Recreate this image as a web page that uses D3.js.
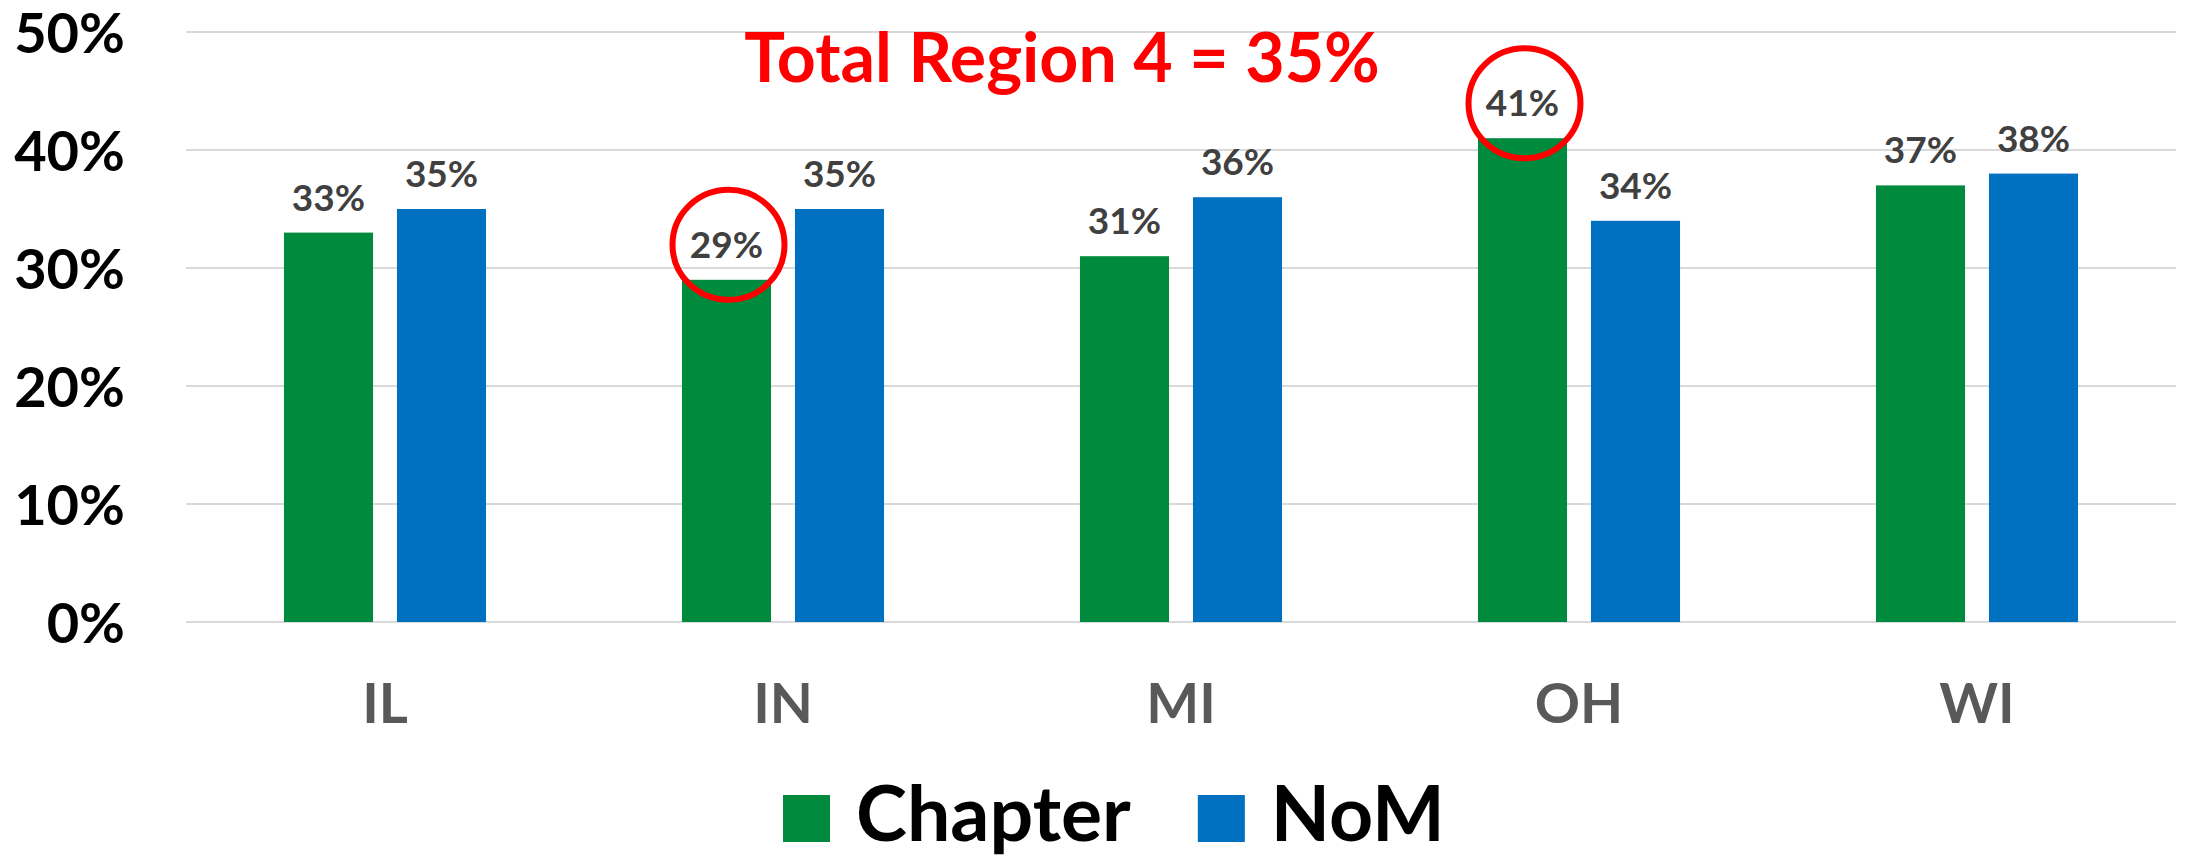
<!DOCTYPE html>
<html>
<head>
<meta charset="utf-8">
<script src="https://cdn.jsdelivr.net/npm/d3@7"></script>
<style>
  body { margin: 0; background: #fff; }
  svg { display: block; font-family: Lato, "Open Sans", sans-serif; font-weight: bold; }
</style>
</head>
<body>
<div id="viz"></div>
<script>
const states = ['IL', 'IN', 'MI', 'OH', 'WI'];
const seriesNames = ['Chapter', 'NoM'];
const chapter = [33, 29, 31, 41, 37];
const nom = [35, 35, 36, 34, 38];
const yTickValues = [0, 10, 20, 30, 40, 50];
const circled = ['IN', 'OH'];   // chapter labels ringed in red
const titleText = 'Total Region 4 = 35%';

const width = 2190;
const height = 859;
const margin = { top: 32, right: 14, bottom: 237, left: 186 };
const plotWidth = width - margin.left - margin.right;
const plotHeight = height - margin.top - margin.bottom;
const colors = { Chapter: '#008A3E', NoM: '#0070C0' };

const rows = states.map((s, i) => ({ state: s, Chapter: chapter[i], NoM: nom[i] }));

const x = d3.scaleBand().domain(states).range([0, plotWidth]);
const xInner = d3.scaleBand()
                 .domain(seriesNames)
                 .range([0, x.bandwidth()])
                 .paddingInner(0.212)
                 .paddingOuter(0.867);
const y = d3.scaleLinear().domain([0, 50]).range([plotHeight, 0]);

const svg = d3.select('#viz')
              .append('svg')
              .attr('width', width)
              .attr('height', height);

svg.append('rect').attr('width', width).attr('height', height).attr('fill', '#fff');

const plot = svg.append('g')
                .attr('transform', `translate(${margin.left}, ${margin.top})`);

// gridlines
plot.append('g')
    .selectAll('line')
    .data(yTickValues)
    .enter().append('line')
      .attr('x1', 0)
      .attr('x2', plotWidth)
      .attr('y1', (d) => y(d))
      .attr('y2', (d) => y(d))
      .attr('stroke', '#d9d9d9')
      .attr('stroke-width', 2);

// y axis labels
const yAxis = svg.append('g')
                 .attr('transform', `translate(${margin.left - 61}, ${margin.top})`)
                 .call(d3.axisLeft(y).tickValues(yTickValues).tickSize(0).tickFormat((d) => d + '%'));
yAxis.select('.domain').remove();
yAxis.selectAll('text')
     .attr('x', 0)
     .attr('dy', '0.36em')
     .attr('fill', '#000')
     .style('font-size', '56px')
     .style('font-family', 'Lato, sans-serif')
     .style('font-weight', 'bold');

// x axis labels
const xAxis = svg.append('g')
                 .attr('transform', `translate(${margin.left}, ${margin.top + plotHeight})`)
                 .call(d3.axisBottom(x).tickSize(0));
xAxis.select('.domain').remove();
xAxis.selectAll('text')
     .attr('y', 101)
     .attr('dy', 0)
     .attr('fill', '#595959')
     .style('font-size', '56px')
     .style('font-family', 'Lato, sans-serif')
     .style('font-weight', 'bold');

// bars
const groups = plot.selectAll('.group')
                   .data(rows)
                   .enter().append('g')
                     .attr('class', 'group')
                     .attr('transform', (d) => `translate(${x(d.state)}, 0)`);

groups.selectAll('rect')
      .data((d) => seriesNames.map((k) => ({ state: d.state, key: k, value: d[k] })))
      .enter().append('rect')
        .attr('x', (d) => xInner(d.key))
        .attr('width', xInner.bandwidth())
        .attr('y', (d) => y(d.value))
        .attr('height', (d) => plotHeight - y(d.value))
        .attr('fill', (d) => colors[d.key]);

groups.selectAll('text')
      .data((d) => seriesNames.map((k) => ({ state: d.state, key: k, value: d[k] })))
      .enter().append('text')
        .attr('x', (d) => xInner(d.key) + xInner.bandwidth() / 2)
        .attr('y', (d) => y(d.value) - 22)
        .attr('text-anchor', 'middle')
        .attr('fill', '#404040')
        .style('font-size', '37px')
        .text((d) => d.value + '%');

// red rings round chosen labels
plot.selectAll('.ring')
    .data(rows.filter((d) => circled.includes(d.state)))
    .enter().append('ellipse')
      .attr('class', 'ring')
      .attr('cx', (d) => x(d.state) + xInner('Chapter') + xInner.bandwidth() / 2 + 2)
      .attr('cy', (d) => y(d.Chapter) - 35)
      .attr('rx', 56)
      .attr('ry', 55)
      .attr('fill', 'none')
      .attr('stroke', '#ff0000')
      .attr('stroke-width', 6);

// title annotation
svg.append('text')
   .attr('x', 1062)
   .attr('y', 82)
   .attr('text-anchor', 'middle')
   .attr('fill', '#ff0000')
   .style('font-size', '68px')
   .text(titleText);

// legend
const legend = svg.append('g').attr('transform', 'translate(783, 795)');
let lx = 0;
seriesNames.forEach((name) => {
  const item = legend.append('g').attr('transform', `translate(${lx}, 0)`);
  item.append('rect')
      .attr('width', 47)
      .attr('height', 47)
      .attr('fill', colors[name]);
  const t = item.append('text')
                .attr('x', 73)
                .attr('y', 46)
                .attr('fill', '#000')
                .style('font-size', '77px')
                .text(name);
  lx += 73 + t.node().getComputedTextLength() + 67;
});
</script>
</body>
</html>
